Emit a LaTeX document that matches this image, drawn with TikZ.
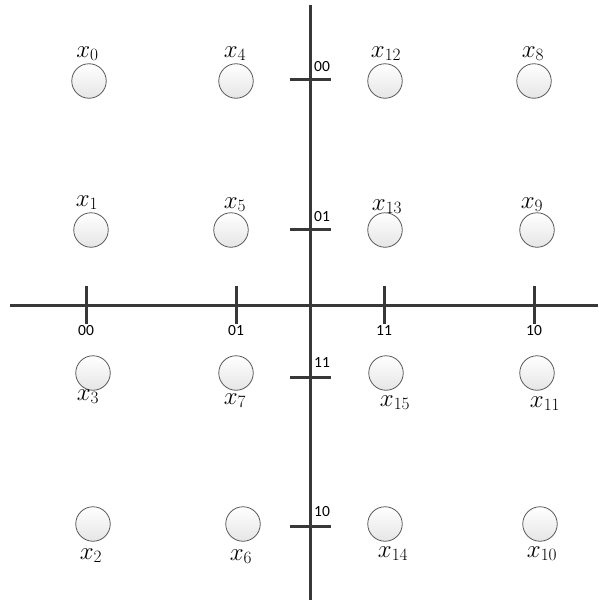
\documentclass[tikz,border=0pt]{standalone}
\usepackage{fontspec}
\newfontfamily\calib{Carlito}
\begin{document}
\begin{tikzpicture}[x=1pt,y=1pt,
  axisline/.style={draw=black!78, line width=3pt},
  ticklabel/.style={font=\calib\fontsize{15.5}{18}\selectfont, inner sep=0pt, text=black},
  dot/.style={circle, draw=black!65, line width=0.8pt, minimum size=34.5pt, inner sep=0pt,
    top color=white, bottom color=black!10},
  xlabel/.style={font=\fontsize{25}{29}\selectfont, inner sep=0pt, anchor=base}]
\useasboundingbox (0,0) rectangle (598,-602);
% axes
\coordinate (vt) at (310,-5);
\coordinate (vb) at (310,-600);
\coordinate (hl) at (10,-305);
\coordinate (hr) at (598,-305);
\draw[axisline] (vt) -- (vb);
\draw[axisline] (hl) -- (hr);
% horizontal ticks
\foreach \n/\xx/\t in {h1/86/00, h2/236/01, h3/384/11, h4/534/10}{
  \coordinate (\n a) at (\xx,-286);
  \coordinate (\n b) at (\xx,-324);
  \draw[axisline] (\n a) -- (\n b);
  \node[ticklabel] (\n l) at (\xx,-330.5) {\t};
}
% vertical ticks
\foreach \n/\yy/\ly/\t in {v1/79/67/00, v2/229/217/01, v3/377/363/11, v4/526/512/10}{
  \coordinate (\n a) at (290,-\yy);
  \coordinate (\n b) at (331,-\yy);
  \draw[axisline] (\n a) -- (\n b);
  \node[ticklabel, anchor=west] (\n l) at (314,-\ly) {\t};
}
% circles
\foreach \n/\cx/\cy in {c0/89/81, c4/236/81, c12/385/81, c8/534/81,
  c1/91/230, c5/231/230, c13/385/230, c9/537/230,
  c3/93/373, c7/236/373, c15/386/373, c11/537/373,
  c2/93/524, c6/243/524, c14/385/524, c10/540/524}{
  \node[dot] (\n) at (\cx,-\cy) {};
}
% labels
\foreach \n/\lx/\ly/\s in {l0/87.5/57/0, l4/235/57/4, l12/386/57/12, l8/533/57/8,
  l1/87/206/1, l5/235/208/5, l13/387/210/13, l9/532/208/9,
  l3/88/400/3, l7/235/404/7, l15/395/406/15, l11/545/407/11,
  l2/91/559/2, l6/241/560/6, l14/393/557/14, l10/542/557/10}{
  \node[xlabel] (\n) at (\lx,-\ly) {$x_{\s}$};
}
\end{tikzpicture}
\end{document}
